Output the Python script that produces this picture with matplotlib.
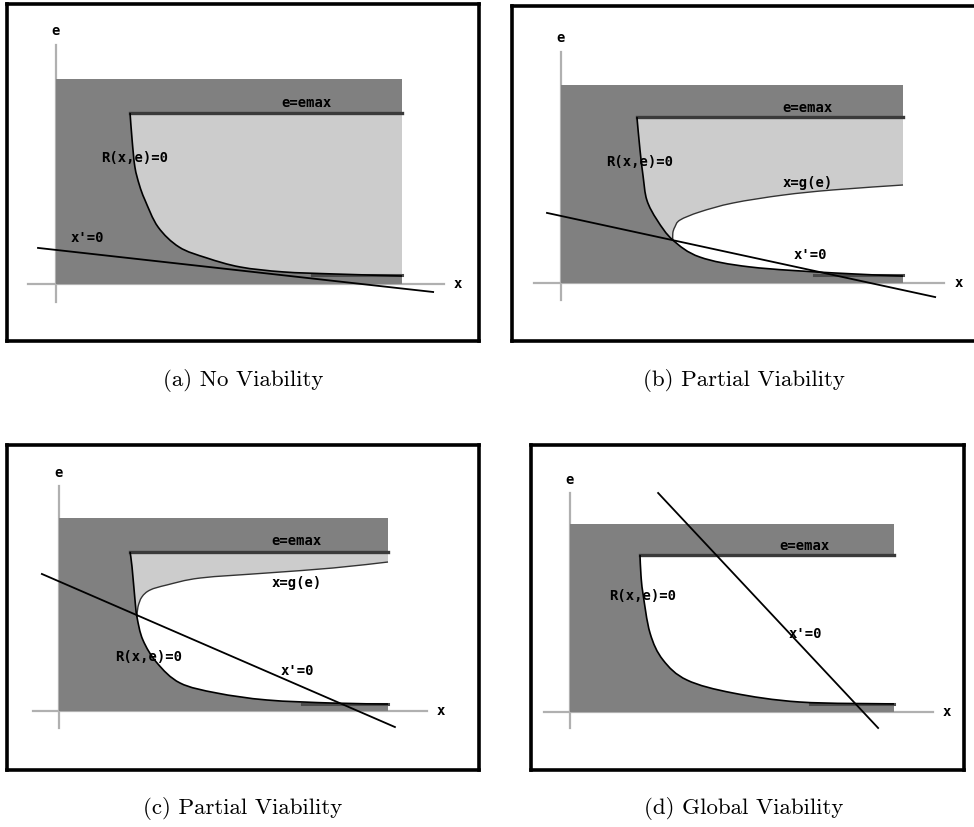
import numpy as np
import matplotlib
matplotlib.use("Agg")
import matplotlib.pyplot as plt
from matplotlib.patches import Rectangle, PathPatch
from matplotlib.path import Path


DARK = "#808080"
LIGHT = "#cccccc"
AXIS = "#b0b0b0"
LBL = dict(family="DejaVu Sans Mono", weight="bold", fontsize=10, ha="center", va="center")

captions = ["(a) No Viability", "(b) Partial Viability",
            "(c) Partial Viability", "(d) Global Viability"]

# level of the upper limit e = emax (rect height = 1, rect width = 1)
emax = [0.834, 0.838, 0.824, 0.835]
emin = [0.042, 0.038, 0.038, 0.043]

# R(x,e)=0 curves
a_Rx = [0.214, 0.220, 0.228, 0.241, 0.257, 0.295, 0.356, 0.436, 0.532, 0.656, 0.801, 1.000]
a_Re = [0.834, 0.702, 0.571, 0.483, 0.410, 0.278, 0.180, 0.127, 0.083, 0.059, 0.049, 0.039]
b_Rx = [0.222, 0.231, 0.240, 0.251, 0.281, 0.327, 0.406, 0.553, 0.795, 1.000]
b_Re = [0.838, 0.672, 0.540, 0.419, 0.318, 0.217, 0.131, 0.081, 0.051, 0.035]
c_Rx = [0.216, 0.222, 0.231, 0.237, 0.255, 0.298, 0.368, 0.480, 0.632, 0.833, 1.000]
c_Re = [0.824, 0.746, 0.575, 0.487, 0.368, 0.249, 0.145, 0.093, 0.057, 0.041, 0.036]
d_Rx = [0.216, 0.219, 0.225, 0.247, 0.287, 0.361, 0.503, 0.710, 1.000]
d_Re = [0.835, 0.729, 0.633, 0.420, 0.277, 0.170, 0.101, 0.053, 0.043]

# x = g(e) curves (from the meeting point with R to the right edge)
b_gx = [0.327, 0.327, 0.333, 0.348, 0.406, 0.503, 0.649, 0.795, 1.000]
b_ge = [0.217, 0.253, 0.283, 0.318, 0.359, 0.404, 0.444, 0.470, 0.495]
c_gx = [0.237, 0.240, 0.252, 0.277, 0.328, 0.429, 0.632, 0.833, 1.000]
c_ge = [0.487, 0.539, 0.591, 0.627, 0.653, 0.689, 0.715, 0.741, 0.772]

# x' = 0 lines, two end points each
a_lx, a_le = [-0.052, 1.090], [0.176, -0.039]
b_lx, b_le = [-0.041, 1.094], [0.354, -0.071]
c_lx, c_le = [-0.052, 1.021], [0.710, -0.083]
d_lx, d_le = [0.272, 0.951], [1.165, -0.085]

# label positions (x, e)
lab_emax = [(0.725, 0.883), (0.722, 0.884), (0.723, 0.881), (0.725, 0.883)]
lab_R = [(0.227, 0.615), (0.231, 0.611), (0.271, 0.280), (0.225, 0.617)]
lab_line = [(0.090, 0.224), (0.728, 0.141), (0.726, 0.207), (0.725, 0.415)]
lab_g = [None, (0.722, 0.505), (0.723, 0.663), None]

# layout: box in pixels (left, top, right, bottom) and origin/unit sizes
W, H = 974, 827
boxes = [(7, 4, 479, 341), (512, 6, 976, 341), (7, 445, 479, 770), (531, 445, 964, 770)]
origins = [(56, 284, 346, 205), (561, 283, 342, 198), (59, 711, 329, 193), (570, 712, 324, 188)]
cap_pos = [(243, 381), (744, 381), (243, 808), (744, 808)]

Rx = [a_Rx, b_Rx, c_Rx, d_Rx]
Re = [a_Re, b_Re, c_Re, d_Re]
gx = [None, b_gx, c_gx, None]
ge = [None, b_ge, c_ge, None]
lx = [a_lx, b_lx, c_lx, d_lx]
le = [a_le, b_le, c_le, d_le]
light = [True, True, True, False]


def smooth(x, e):
    # bezier segments through the read points (drawn by matplotlib's path)
    p = np.column_stack([x, e])
    n = len(p)
    verts = [p[0]]
    codes = [Path.MOVETO]
    for k in range(n - 1):
        p0 = p[max(k - 1, 0)]
        p1 = p[k]
        p2 = p[k + 1]
        p3 = p[min(k + 2, n - 1)]
        verts += [p1 + (p2 - p0) / 6, p2 - (p3 - p1) / 6, p2]
        codes += [Path.CURVE4] * 3
    return verts, codes


fig = plt.figure(figsize=(W / 100, H / 100), dpi=100)

for i in range(4):
    l, t, r, b = boxes[i]
    ox, oy, uw, uh = origins[i]
    ax = fig.add_axes([l / W, 1 - b / H, (r - l) / W, (b - t) / H])
    ax.set_xlim((l - ox) / uw, (r - ox) / uw)
    ax.set_ylim((oy - b) / uh, (oy - t) / uh)
    ax.set_xticks([])
    ax.set_yticks([])
    for s in ax.spines.values():
        s.set_linewidth(2.6)
        s.set_color("black")
    if i == 1:
        ax.spines["right"].set_visible(False)

    # coordinate axes
    ax.plot([-0.08, 1.12], [0, 0], color=AXIS, lw=1.6, zorder=1)
    ax.plot([0, 0], [-0.087, 1.165], color=AXIS, lw=1.6, zorder=1)
    ax.text(0, 1.235, "e", **LBL)
    ax.text(1.162, 0, "x", **LBL)

    ax.add_patch(Rectangle((0, 0), 1, 1, facecolor=DARK, edgecolor="none", zorder=2))

    x = np.array(Rx[i])
    e = np.array(Re[i])
    rv, rc = smooth(x, e)

    # region right of R and below emax
    fv = rv + [(1.0, emax[i]), (x[0], e[0])]
    fc = rc + [Path.LINETO, Path.CLOSEPOLY]
    ax.add_patch(PathPatch(Path(fv, fc), facecolor=LIGHT if light[i] else "white",
                           edgecolor="none", zorder=3))

    if gx[i] is not None:
        g_x = np.array(gx[i])
        g_e = np.array(ge[i])
        m = x >= g_x[0]
        lv, lc = smooth(x[m], e[m])
        gv, gc = smooth(g_x[::-1], g_e[::-1])
        wv = lv + [gv[0]] + gv[1:] + [lv[0]]
        wc = lc + [Path.LINETO] + gc[1:] + [Path.CLOSEPOLY]
        ax.add_patch(PathPatch(Path(wv, wc), facecolor="white", edgecolor="none", zorder=4))
        gv2, gc2 = smooth(g_x, g_e)
        ax.add_patch(PathPatch(Path(gv2, gc2), facecolor="none", edgecolor="#333333",
                               lw=1.0, zorder=5))
        ax.text(*lab_g[i], "x=g(e)", zorder=7, **LBL)

    ax.plot([x[0], 1.0], [emax[i], emax[i]], color="#3a3a3a", lw=2.4, zorder=5)
    ax.plot([0.74, 1.0], [emin[i], emin[i]], color="#4a4a4a", lw=2.2, zorder=5)
    ax.add_patch(PathPatch(Path(rv, rc), facecolor="none", edgecolor="black",
                           lw=1.2, zorder=6))
    ax.plot(lx[i], le[i], color="black", lw=1.3, zorder=6)

    ax.text(*lab_emax[i], "e=emax", zorder=7, **LBL)
    ax.text(*lab_R[i], "R(x,e)=0", zorder=7, **LBL)
    ax.text(*lab_line[i], "x'=0", zorder=7, **LBL)

    cx, cy = cap_pos[i]
    fig.text(cx / W, 1 - cy / H, captions[i], family="cmr10", fontsize=16.5,
             ha="center", va="center")

fig.savefig("out.png", dpi=100)
